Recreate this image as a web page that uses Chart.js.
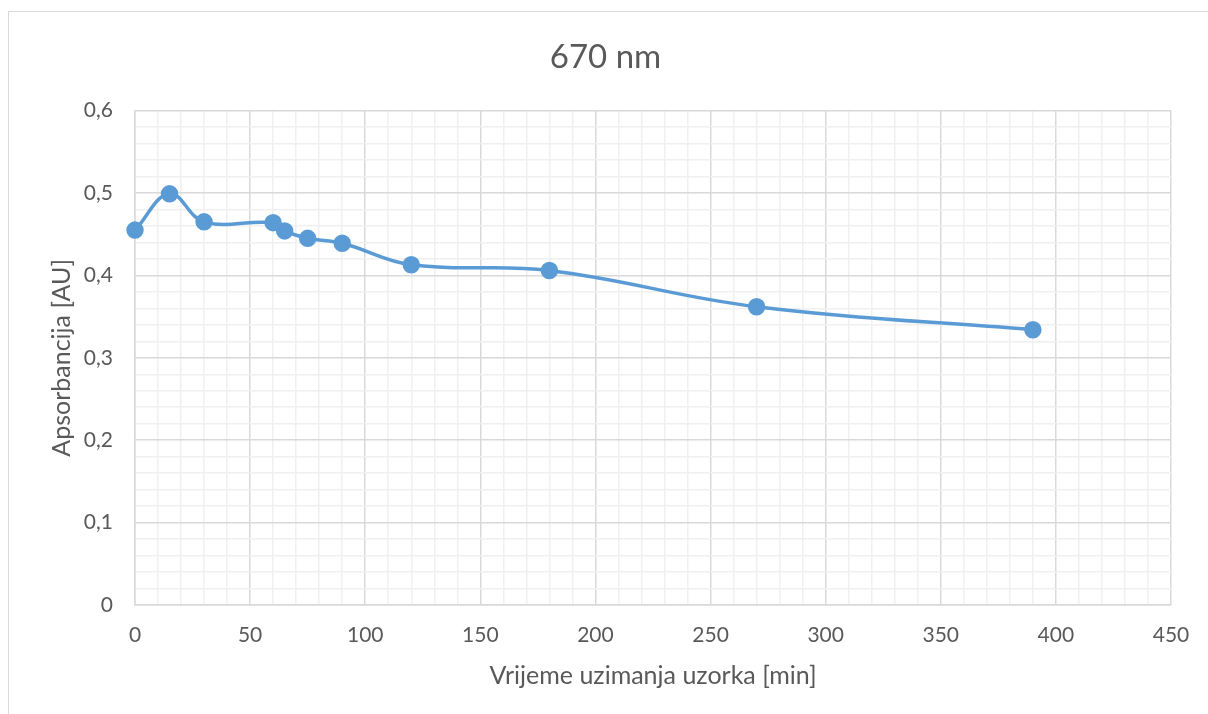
<!DOCTYPE html>
<html>
<head>
<meta charset="utf-8">
<script src="https://cdn.jsdelivr.net/npm/chart.js@4"></script>
<style>
  html, body { margin: 0; padding: 0; background: #fff; overflow: hidden; }
  #frame {
    position: absolute; left: 8px; top: 11px; width: 1300px; height: 800px;
    border: 1.5px solid #d9d9d9; box-sizing: border-box;
  }
  #wrap { position: absolute; left: 0; top: 0; width: 1208px; height: 714px; }
</style>
</head>
<body>
<div id="frame"></div>
<div id="wrap"><canvas id="absChart" width="1208" height="714"></canvas></div>
<script>
// sampling time [min] and absorbance at 670 nm
const times = [0, 15, 30, 60, 65, 75, 90, 120, 180, 270, 390];
const absorbance = [0.455, 0.499, 0.465, 0.464, 0.454, 0.445, 0.439, 0.413, 0.406, 0.362, 0.334];

const xTicks = [0, 50, 100, 150, 200, 250, 300, 350, 400, 450];
const yTicks = ['0', '0,1', '0,2', '0,3', '0,4', '0,5', '0,6'];

const points = times.map((t, i) => ({ x: t, y: absorbance[i] }));

const textColor = '#595959';
const majorGrid = '#d9d9d9';
const minorGrid = '#f0f0f0';

const ctx = document.getElementById('absChart').getContext('2d');

new Chart(ctx, {
    type: 'line',
    data: {
        datasets: [{
            label: '670 nm',
            data: points,
            borderColor: '#5b9bd5',
            backgroundColor: '#5b9bd5',
            borderWidth: 3.5,
            pointRadius: 7,
            pointHoverRadius: 7,
            tension: 0.4,
            fill: false,
            clip: false,
        }]
    },
    options: {
        responsive: false,
        animation: false,
        layout: { padding: { left: 40, right: 37, top: 0, bottom: 20 } },
        plugins: {
            legend: { display: false },
            tooltip: { enabled: false },
            title: {
                display: true,
                text: '670 nm',
                color: textColor,
                font: { family: 'Lato', size: 33, weight: 'normal' },
                padding: { top: 38, bottom: 33 },
            },
        },
        scales: {
            x: {
                type: 'linear',
                min: 0,
                max: 450,
                afterFit: s => { s.height = 714 - 605 - 20; },
                ticks: {
                    stepSize: 10,
                    autoSkip: false,
                    maxRotation: 0,
                    padding: 18,
                    color: textColor,
                    font: { family: 'Lato', size: 21 },
                    callback: v => {
                        const i = xTicks.indexOf(v);
                        return i >= 0 ? String(xTicks[i]) : '';
                    },
                },
                grid: {
                    drawTicks: false,
                    lineWidth: 1.5,
                    color: c => (c.tick && c.tick.value % 50 === 0) ? majorGrid : minorGrid,
                },
                border: { color: majorGrid, width: 1.5 },
                title: {
                    display: true,
                    text: 'Vrijeme uzimanja uzorka [min]',
                    color: textColor,
                    font: { family: 'Lato', size: 25 },
                    padding: { top: 3, bottom: 3 },
                },
            },
            y: {
                min: 0,
                max: 0.6,
                afterFit: s => { s.width = 135 - 40; },
                ticks: {
                    stepSize: 0.02,
                    autoSkip: false,
                    padding: 22,
                    color: textColor,
                    font: { family: 'Lato', size: 21 },
                    callback: v => {
                        const k = Math.round(v * 100);
                        return k % 10 === 0 ? yTicks[k / 10] : '';
                    },
                },
                grid: {
                    drawTicks: false,
                    lineWidth: 1.5,
                    color: c => (c.tick && Math.round(c.tick.value * 100) % 10 === 0) ? majorGrid : minorGrid,
                },
                border: { color: majorGrid, width: 1.5 },
                title: {
                    display: true,
                    text: 'Apsorbancija [AU]',
                    color: textColor,
                    font: { family: 'Lato', size: 25 },
                    padding: { top: 7, bottom: 0 },
                },
            },
        },
    },
});
</script>
</body>
</html>
